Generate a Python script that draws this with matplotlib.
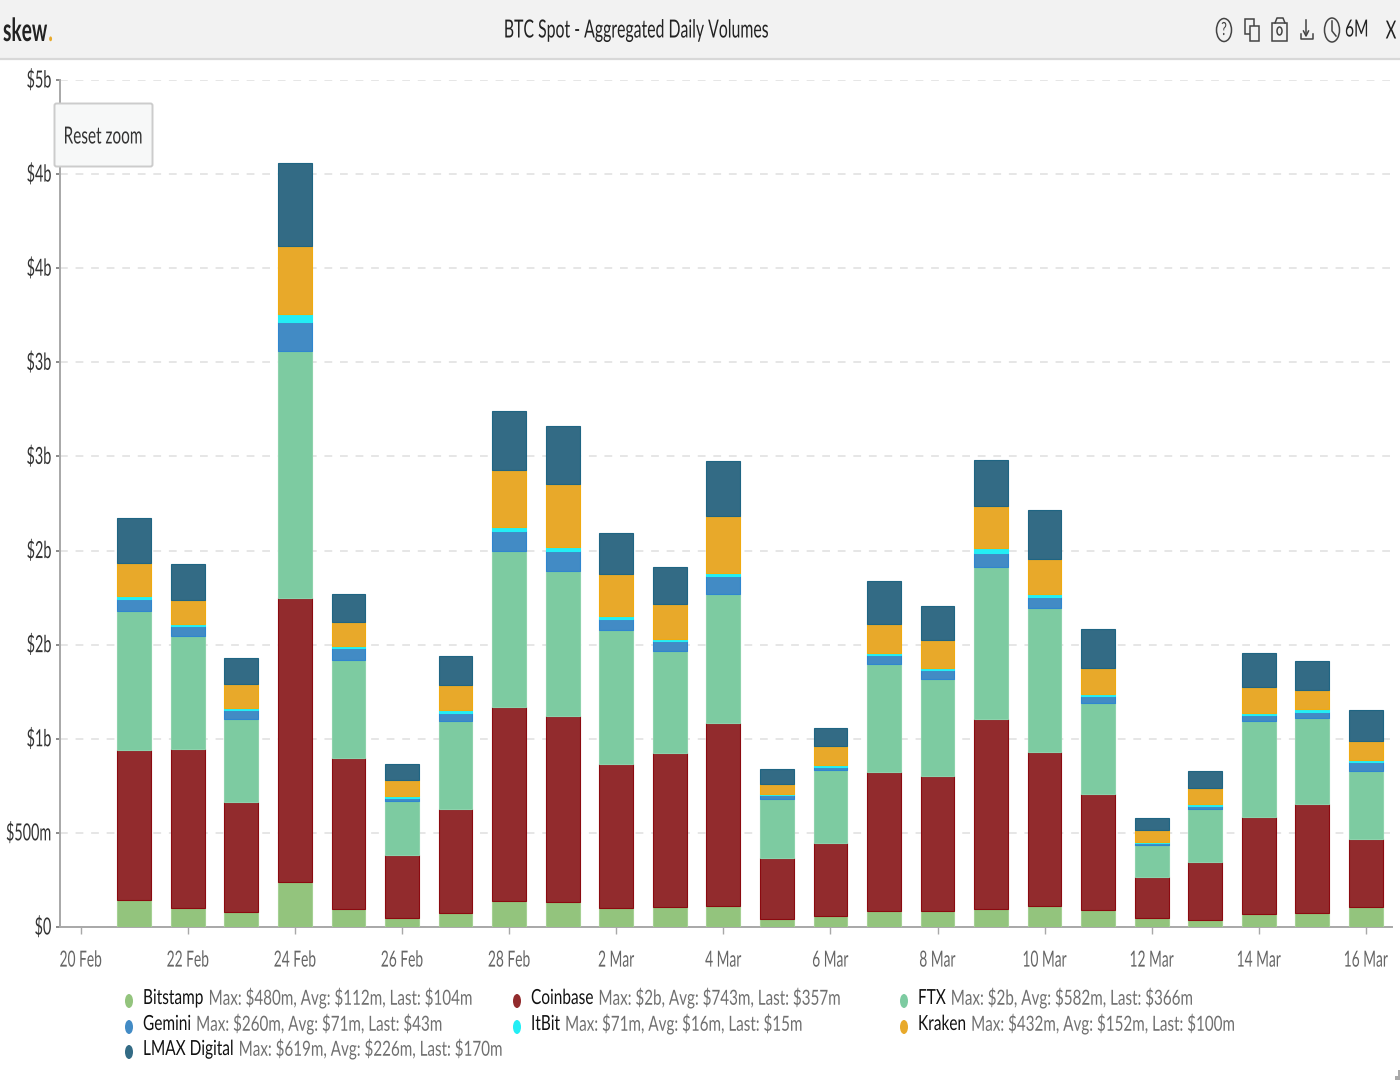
import matplotlib
matplotlib.use('Agg')
import matplotlib.pyplot as plt
import numpy as np
from matplotlib.patches import Rectangle, Ellipse, FancyBboxPatch
from matplotlib.patheffects import AbstractPathEffect
from matplotlib.transforms import Affine2D, Bbox

plt.rcParams['font.family'] = ['Lato', 'DejaVu Sans']

# daily volumes in $m, 21 Feb to 16 Mar
bitstamp = [142, 100, 78, 238, 94, 47, 73, 137, 132, 100, 105, 110, 41, 57, 84, 84, 94, 110, 89, 47, 36, 68, 73, 108]
coinbase = [797, 845, 584, 1509, 802, 335, 553, 1031, 988, 765, 818, 972, 324, 388, 739, 717, 1009, 818, 616, 218, 308, 515, 579, 357]
ftx = [739, 600, 441, 1312, 521, 287, 468, 829, 770, 712, 542, 685, 313, 388, 574, 515, 808, 765, 483, 170, 282, 510, 457, 366]
gemini = [64, 53, 48, 154, 64, 16, 43, 106, 106, 58, 53, 96, 21, 16, 48, 48, 74, 58, 37, 11, 16, 32, 32, 43]
itbit = [16, 11, 11, 43, 11, 11, 16, 21, 21, 16, 11, 16, 5, 11, 11, 11, 27, 16, 11, 5, 11, 11, 16, 15]
kraken = [175, 128, 128, 361, 128, 85, 133, 303, 335, 223, 186, 303, 58, 101, 154, 149, 223, 186, 138, 64, 85, 138, 101, 100]
lmax = [240, 193, 139, 442, 150, 86, 155, 315, 309, 219, 198, 294, 76, 97, 230, 182, 246, 262, 209, 65, 92, 182, 155, 166]

series = [bitstamp, coinbase, ftx, gemini, itbit, kraken, lmax]
names = ['Bitstamp', 'Coinbase', 'FTX', 'Gemini', 'ItBit', 'Kraken', 'LMAX Digital']
stats = ['Max: $480m, Avg: $112m, Last: $104m', 'Max: $2b, Avg: $743m, Last: $357m',
         'Max: $2b, Avg: $582m, Last: $366m', 'Max: $260m, Avg: $71m, Last: $43m',
         'Max: $71m, Avg: $16m, Last: $15m', 'Max: $432m, Avg: $152m, Last: $100m',
         'Max: $619m, Avg: $226m, Last: $170m']
colors = ['#93c47d', '#922b2d', '#7dcba1', '#428bc5', '#23eef5', '#e8a92a', '#336b85']
edges = ['#a5d093', '#8b0a10', '#8ed2ac', '#2f86cf', '#23eef5', '#f0aa10', '#1f6583']

x_ticks = [0, 2, 4, 6, 8, 10, 12, 14, 16, 18, 20, 22, 24]
x_labels = ['20 Feb', '22 Feb', '24 Feb', '26 Feb', '28 Feb', '2 Mar', '4 Mar', '6 Mar',
            '8 Mar', '10 Mar', '12 Mar', '14 Mar', '16 Mar']
y_ticks = [0, 500, 1000, 1500, 2000, 2500, 3000, 3500, 4000, 4500]
y_labels = ['$0', '$500m', '$1b', '$2b', '$2b', '$3b', '$3b', '$4b', '$4b', '$5b']


class Squeeze(AbstractPathEffect):
    # the screenshot is stretched, so glyphs get narrowed around the text anchor
    def __init__(self, text, sx):
        super().__init__()
        self.text = text
        self.sx = sx

    def draw_path(self, renderer, gc, tpath, affine, rgbFace=None):
        x0 = anchor_x(self.text)
        narrow = Affine2D().translate(-x0, 0).scale(self.sx, 1).translate(x0, 0)
        renderer.draw_path(gc, tpath, affine + narrow, rgbFace)


def anchor_x(t):
    return t.get_transform().transform(t.get_unitless_position())[0]


def squeeze(t, sx):
    full_extent = t.get_window_extent

    def narrow_extent(renderer=None, dpi=None):
        b = full_extent(renderer, dpi)
        x0 = anchor_x(t)
        return Bbox.from_extents(x0 + (b.x0 - x0) * sx, b.y0, x0 + (b.x1 - x0) * sx, b.y1)

    t.get_window_extent = narrow_extent
    t.set_path_effects([Squeeze(t, sx)])
    return t


W, H = 1400, 1080
fig = plt.figure(figsize=(W / 100, H / 100), dpi=100, facecolor='white')
renderer = fig.canvas.get_renderer()

# main chart, pixel box 60..1392 / 80..927
ax = fig.add_axes([60 / W, (H - 927) / H, (1392 - 60) / W, (927 - 80) / H])
days = np.arange(1, 25)
bottom = np.zeros(24)
for vals, c, e in zip(series, colors, edges):
    ax.bar(days, vals, 0.63, bottom=bottom, color=c, edgecolor=e, linewidth=0.8, zorder=3)
    bottom += np.array(vals)

ax.set_xlim(-20.7 / 53.55, (1392 - 80.7) / 53.55)
ax.set_ylim(0, 4500)
ax.set_xticks(x_ticks)
ax.set_xticklabels(x_labels)
ax.set_yticks(y_ticks)
ax.set_yticklabels(y_labels)
ax.tick_params(axis='x', length=5, width=1, color='#a8a8a8', labelcolor='#666666', labelsize=16, pad=12)
ax.tick_params(axis='y', length=3, width=1.2, color='#777777', labelcolor='#333333', labelsize=17, pad=4)
ax.grid(axis='y', color='#e6e6e6', linestyle=(0, (4, 4)), linewidth=1.4, zorder=0)
ax.set_axisbelow(True)
for s in ['top', 'right']:
    ax.spines[s].set_visible(False)
for s in ['left', 'bottom']:
    ax.spines[s].set_color('#a8a8a8')
    ax.spines[s].set_linewidth(1.4)
for lab in ax.get_xticklabels():
    squeeze(lab, 0.62)
for lab in ax.get_yticklabels():
    # y labels sit a touch higher than their ticks
    lab.set_transform(lab.get_transform() + Affine2D().translate(1, 1.5))
    squeeze(lab, 0.61)

# overlay in pixel coordinates for header, button and legend
ov = fig.add_axes([0, 0, 1, 1], zorder=5)
ov.set_xlim(0, W)
ov.set_ylim(H, 0)
ov.axis('off')
ov.patch.set_alpha(0)

ov.add_patch(Rectangle((0, 0), W, 58, facecolor='#f2f2f2', edgecolor='none'))
ov.plot([0, W], [58.5, 58.5], color='#d8d8d8', lw=1.6)

logo = squeeze(ov.text(3, 41, 'skew', fontsize=23, fontweight='bold', color='#222222', va='baseline'), 0.6)
logo_end = logo.get_window_extent(renderer).x1
squeeze(ov.text(logo_end + 1, 41, '.', fontsize=23, fontweight='bold', color='#e8a92a', va='baseline'), 0.6)
squeeze(ov.text(636, 30, 'BTC Spot - Aggregated Daily Volumes', fontsize=18, color='#222222',
                ha='center', va='center'), 0.633)

# toolbar icons
ink = '#444444'
ov.add_patch(Ellipse((1224, 30), 15, 23, fill=False, edgecolor=ink, lw=1.1))
squeeze(ov.text(1224, 30, '?', fontsize=13, color=ink, ha='center', va='center'), 0.7)
ov.add_patch(Rectangle((1245, 19), 9, 15, fill=False, edgecolor=ink, lw=1.1))
ov.add_patch(Rectangle((1250, 26), 9, 15, facecolor='#f2f2f2', edgecolor=ink, lw=1.1))
ov.add_patch(Rectangle((1272, 23), 15, 18, fill=False, edgecolor=ink, lw=1.1))
ov.plot([1275, 1277, 1283, 1285], [23, 18, 18, 23], color=ink, lw=1.1)
ov.add_patch(Ellipse((1279.5, 31), 5, 8, fill=False, edgecolor=ink, lw=1.1))
ov.plot([1306, 1306], [20, 35], color=ink, lw=1.1)
ov.plot([1303.5, 1306, 1308.5], [31, 36, 31], color=ink, lw=1.1)
ov.plot([1301, 1301, 1313, 1313], [34, 39, 39, 34], color=ink, lw=1.1)
ov.add_patch(Ellipse((1332, 30), 15, 24, fill=False, edgecolor=ink, lw=1.1))
ov.plot([1332, 1332, 1336], [21, 31, 36], color=ink, lw=1.1)
squeeze(ov.text(1345, 30, '6M', fontsize=17, color='#222222', va='center'), 0.66)
squeeze(ov.text(1391, 31, 'X', fontsize=18, color='#222222', ha='center', va='center'), 0.66)

# reset zoom button
ov.add_patch(FancyBboxPatch((54.5, 103.5), 98, 63, boxstyle='round,pad=0,rounding_size=2',
                            facecolor='#f7f8f8', edgecolor='#cccccc', lw=1.4))
squeeze(ov.text(103, 137, 'Reset zoom', fontsize=17, color='#333333', ha='center', va='center'), 0.65)

# legend
col_x = [129, 517, 904]
row_y = [998, 1024, 1049]
for i, (name, stat, dot) in enumerate(zip(names, stats, colors)):
    cx = col_x[i % 3]
    cy = row_y[i // 3]
    ov.add_patch(Ellipse((cx, cy + 3), 8, 14, facecolor=dot, edgecolor='none'))
    t = squeeze(ov.text(cx + 14, cy, name, fontsize=15, color='#111111', va='center'), 0.74)
    name_end = t.get_window_extent(renderer).x1
    squeeze(ov.text(name_end + 5, cy, stat, fontsize=15, color='#707070', va='center'), 0.73)

# resize grip in the bottom right corner
ov.add_patch(Rectangle((1398, 1070), 2, 10, facecolor='#aaaaaa', edgecolor='none'))
ov.add_patch(Rectangle((1395, 1076), 5, 4, facecolor='#aaaaaa', edgecolor='none'))

fig.savefig('out.png', dpi=100)
